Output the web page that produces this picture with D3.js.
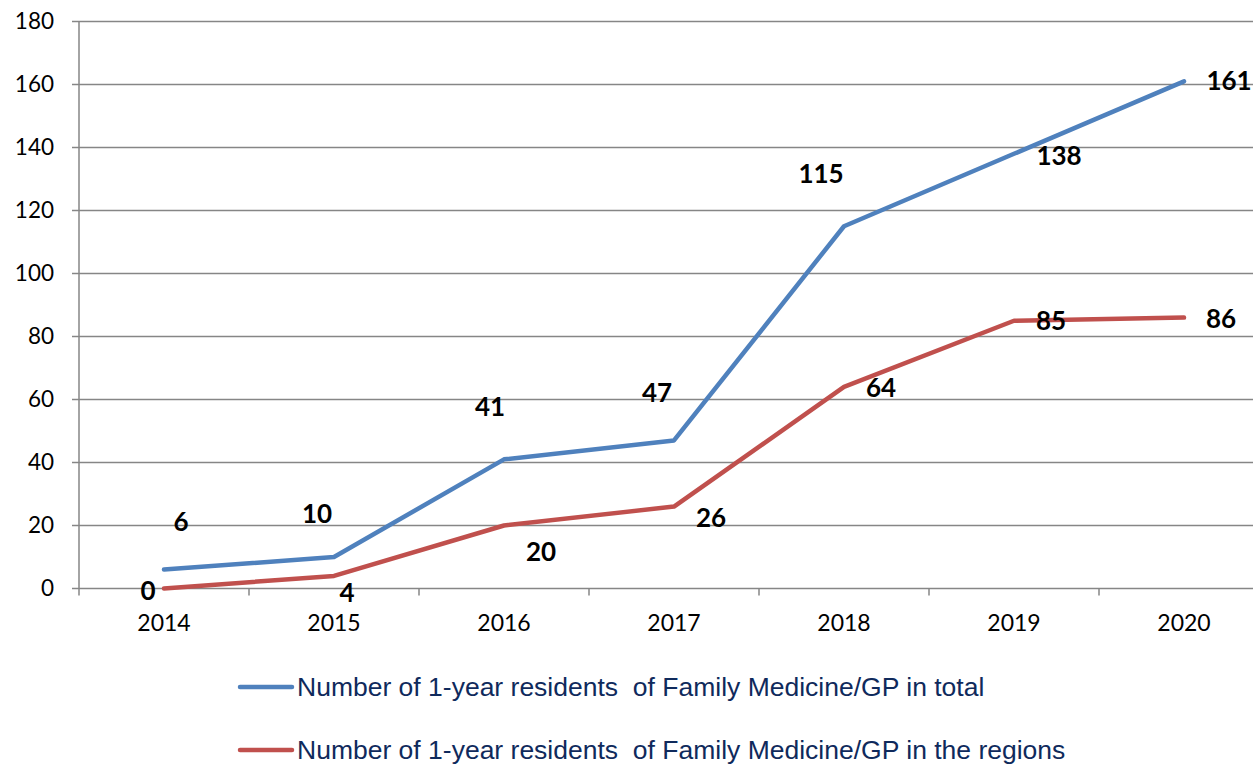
<!DOCTYPE html>
<html>
<head>
<meta charset="utf-8">
<script src="https://cdn.jsdelivr.net/npm/d3@7"></script>
<style>
  body { margin: 0; background: #fff; }
  svg { display: block; }
</style>
</head>
<body>
<div id="chart"></div>
<script>
const years = ["2014", "2015", "2016", "2017", "2018", "2019", "2020"];
const totalResidents = [6, 10, 41, 47, 115, 138, 161];
const regionResidents = [0, 4, 20, 26, 64, 85, 86];
const yTicks = [0, 20, 40, 60, 80, 100, 120, 140, 160, 180];
const seriesNames = [
  "Number of 1-year residents  of Family Medicine/GP in total",
  "Number of 1-year residents  of Family Medicine/GP in the regions"
];

// where each data label sits relative to its point (px)
const totalLabelOffset = [[17, -48], [-17, -43], [-14, -52], [-17, -48], [-23, -52], [45, 2], [45, 0]];
const regionLabelOffset = [[-16, 2], [13, 17], [37, 26], [37, 11], [37, 1], [37, 0], [37, 1]];

const width = 1253, height = 764;
const margin = { top: 21.5, left: 79 };
const plotRight = 79 + 7 * 170; // plot runs past the window edge
const plotBottom = 588.5;

const svg = d3.select("#chart").append("svg")
  .attr("width", width)
  .attr("height", height);

const x = d3.scaleBand().domain(years).range([margin.left, plotRight]);
const y = d3.scaleLinear().domain([0, 180]).range([plotBottom, margin.top]);

const gridColor = "#868686";
const axisFont = "Lato, 'Open Sans', sans-serif";

// horizontal gridlines
svg.append("g")
  .selectAll("line")
  .data(yTicks)
  .join("line")
  .attr("x1", margin.left - 7)
  .attr("x2", plotRight)
  .attr("y1", d => y(d))
  .attr("y2", d => y(d))
  .attr("stroke", gridColor)
  .attr("stroke-width", 1.5);

// y axis line
svg.append("line")
  .attr("x1", margin.left).attr("x2", margin.left)
  .attr("y1", y(180)).attr("y2", plotBottom + 7)
  .attr("stroke", gridColor).attr("stroke-width", 1.5);

// y tick labels
svg.append("g")
  .selectAll("text")
  .data(yTicks)
  .join("text")
  .attr("x", 54)
  .attr("y", d => y(d))
  .attr("dy", "0.35em")
  .attr("text-anchor", "end")
  .style("font-family", axisFont)
  .style("font-size", "22.5px")
  .attr("fill", "#000")
  .text(d => d);

// x category boundary ticks
svg.append("g")
  .selectAll("line")
  .data(years.slice(1))
  .join("line")
  .attr("x1", d => x(d)).attr("x2", d => x(d))
  .attr("y1", plotBottom).attr("y2", plotBottom + 7)
  .attr("stroke", gridColor).attr("stroke-width", 1.5);

// x tick labels
svg.append("g")
  .selectAll("text")
  .data(years)
  .join("text")
  .attr("x", d => x(d) + x.bandwidth() / 2)
  .attr("y", 623)
  .attr("dy", "0.35em")
  .attr("text-anchor", "middle")
  .style("font-family", axisFont)
  .style("font-size", "23px")
  .attr("fill", "#000")
  .text(d => d);

const cx = d => x(d) + x.bandwidth() / 2;
const line = d3.line()
  .x((d, i) => cx(years[i]))
  .y(d => y(d));

const series = [
  { values: totalResidents, color: "#4F81BD", offsets: totalLabelOffset },
  { values: regionResidents, color: "#C0504D", offsets: regionLabelOffset }
];

series.forEach(s => {
  svg.append("path")
    .datum(s.values)
    .attr("fill", "none")
    .attr("stroke", s.color)
    .attr("stroke-width", 4.5)
    .attr("stroke-linejoin", "round")
    .attr("stroke-linecap", "round")
    .attr("d", line);
});

series.forEach(s => {
  svg.append("g")
    .selectAll("text")
    .data(s.values)
    .join("text")
    .attr("x", (d, i) => cx(years[i]) + s.offsets[i][0])
    .attr("y", (d, i) => y(d) + s.offsets[i][1])
    .attr("dy", "0.35em")
    .attr("text-anchor", "middle")
    .style("font-family", axisFont)
    .style("font-weight", "bold")
    .style("font-size", "26px")
    .attr("fill", "#000")
    .text(d => d);
});

// legend
const legend = svg.append("g")
  .selectAll("g")
  .data(series)
  .join("g")
  .attr("transform", (d, i) => `translate(240, ${687 + i * 63})`);

legend.append("line")
  .attr("x1", 0).attr("x2", 52)
  .attr("y1", 0).attr("y2", 0)
  .attr("stroke", d => d.color)
  .attr("stroke-width", 4.5)
  .attr("stroke-linecap", "round");

legend.append("text")
  .attr("x", 57)
  .attr("y", 0)
  .attr("dy", "0.35em")
  .style("font-family", "'Liberation Sans', Arial, sans-serif")
  .style("font-size", "26.5px")
  .style("white-space", "pre")
  .attr("fill", "#0F2A5C")
  .text((d, i) => seriesNames[i]);
</script>
</body>
</html>
